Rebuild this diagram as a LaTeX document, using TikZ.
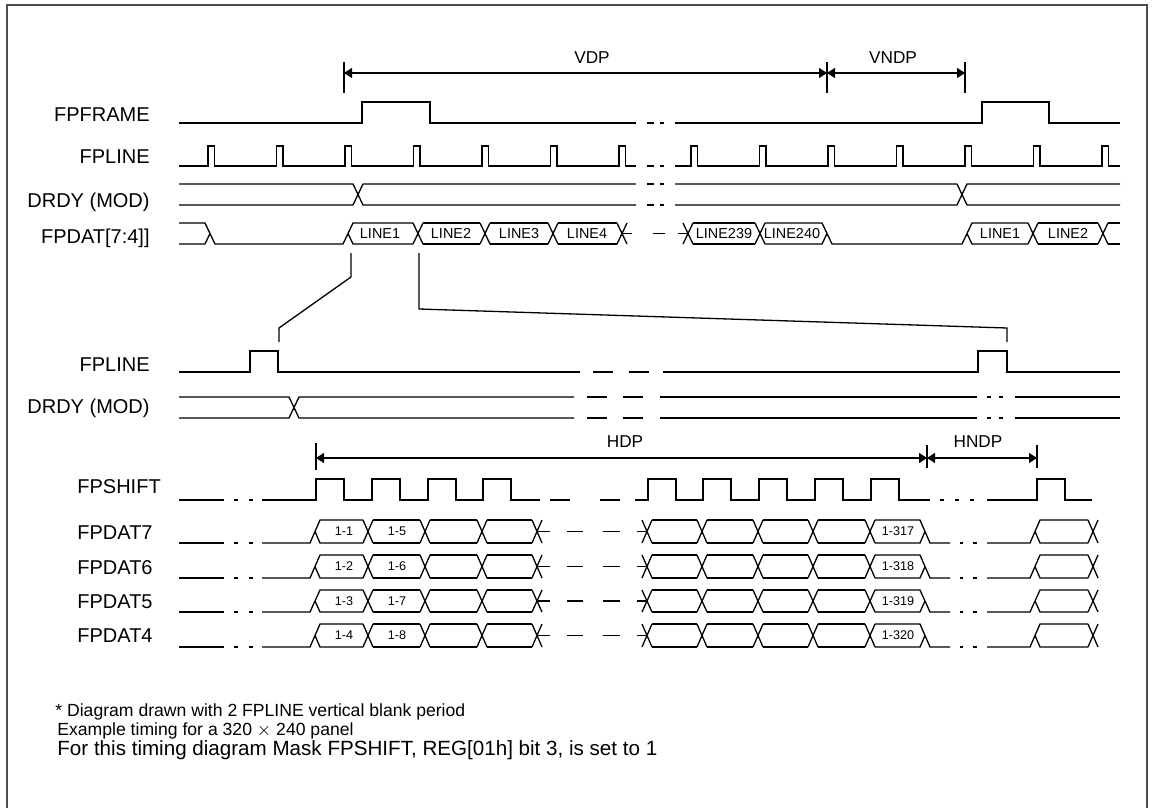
\documentclass[tikz,border=0pt]{standalone}
\usepackage{fontspec}
\setmainfont{Liberation Sans}
\usetikzlibrary{arrows.meta}
\newcommand\tdX[3]{\draw[sig] ({#1-5},#2) -- ({#1+5},#3) ({#1-5},#3) -- ({#1+5},#2);}
\newcommand\tdRun[4]{\draw[sig] (#1,#3) -- (#2,#3) (#1,#4) -- (#2,#4);}
\newcommand\tdDataRow[5]{%
  % #1 top, #2 bottom, #3 mid, #4 first label, #5 second label
  \draw[sig] (179,#2) -- (224,#2);
  \draw[sig] (234,#2) -- (238,#2) (249,#2) -- (253,#2);
  \draw[sig] (262,#2) -- (310,#2) -- (320,#1) -- (363,#1);
  \draw[sig] (315,#3) -- (320,#2) -- (363,#2);
  \tdX{368}{#1}{#2}\tdRun{373}{420}{#1}{#2}
  \tdX{425}{#1}{#2}\tdRun{430}{477}{#1}{#2}
  \tdX{482}{#1}{#2}\tdRun{487}{532}{#1}{#2}
  \tdX{537}{#1}{#2}
  \draw[sig] (537,#3) -- (550,#3);
  \draw[sig] (567,#3) -- (583,#3) (603,#3) -- (620,#3) (637,#3) -- (647,#3);
  \tdX{647}{#1}{#2}\tdRun{652}{697}{#1}{#2}
  \tdX{702}{#1}{#2}\tdRun{707}{753}{#1}{#2}
  \tdX{758}{#1}{#2}\tdRun{763}{808}{#1}{#2}
  \tdX{813}{#1}{#2}\tdRun{818}{865}{#1}{#2}
  \tdX{870}{#1}{#2}
  \draw[sig] (875,#1) -- (920,#1) -- (930,#2) -- (950,#2);
  \draw[sig] (875,#2) -- (920,#2) -- (925,#3);
  \draw[sig] (960,#2) -- (963,#2) (973,#2) -- (977,#2);
  \draw[sig] (987,#2) -- (1030,#2) -- (1040,#1) -- (1088,#1);
  \draw[sig] (1035,#3) -- (1040,#2) -- (1088,#2);
  \tdX{1093}{#1}{#2}
  \node[dlbl] at (344,#3) {#4};
  \node[dlbl] at (397,#3) {#5};
}
\begin{document}
\begin{tikzpicture}[x=0.5pt,y=-0.5pt,
  sig/.style={line width=0.65pt,line cap=butt,line join=miter},
  frame/.style={line width=1pt,draw=black!70},
  lbl/.style={font=\fontsize{10}{12}\selectfont,anchor=base east,inner sep=0pt},
  lbll/.style={font=\fontsize{10}{12}\selectfont,anchor=base west,inner sep=0pt},
  buslbl/.style={font=\fontsize{7.2}{8}\selectfont,inner sep=0pt},
  dlbl/.style={font=\fontsize{6.3}{7}\selectfont,inner sep=0pt},
  dimlbl/.style={font=\fontsize{8.6}{10}\selectfont,inner sep=0pt},
  note/.style={font=\fontsize{8.8}{10}\selectfont,anchor=base west,inner sep=0pt},
  dim/.style={line width=0.6pt,{Triangle[length=4pt,width=5pt]}-{Triangle[length=4pt,width=5pt]}},
  tick/.style={line width=0.6pt}]
\useasboundingbox (0,0) rectangle (1152,808);
\fill[white] (0,0) rectangle (1152,808);
\draw[frame] (7,808) -- (7,5) -- (1147,5) -- (1147,808);

% ---------- labels ----------
\node[lbl] (lFPFRAME) at (150,122) {FPFRAME};
\node[lbl] (lFPLINE) at (150,163) {FPLINE};
\node[lbl] (lDRDY) at (150,207) {DRDY (MOD)};
\node[lbl] (lFPDAT) at (150,243) {FPDAT[7:4]]};
\node[lbl] (lFPLINEb) at (150,371) {FPLINE};
\node[lbl] (lDRDYb) at (150,413) {DRDY (MOD)};
\node[lbll] (lFPSHIFT) at (77,493) {FPSHIFT};
\node[lbll] (lD7) at (77,539) {FPDAT7};
\node[lbll] (lD6) at (77,574) {FPDAT6};
\node[lbll] (lD5) at (77,608) {FPDAT5};
\node[lbll] (lD4) at (77,642) {FPDAT4};

% ---------- VDP / VNDP ----------
\coordinate (vL) at (344,73); \coordinate (vM) at (827,73); \coordinate (vR) at (965,73);
\draw[tick] (344,62) -- (344,93) (827,62) -- (827,93) (965,62) -- (965,93);
\draw[dim] (vL) -- (vM);
\draw[dim] (vM) -- (vR);
\node[dimlbl] (tVDP) at (592,58) {VDP};
\node[dimlbl] (tVNDP) at (893,58) {VNDP};

% ---------- FPFRAME ----------
\draw[sig] (179,123) -- (362,123) -- (362,102) -- (430,102) -- (430,123) -- (636,123);
\draw[sig] (647,123) -- (654,123) (660,123) -- (664,123);
\draw[sig] (675,123) -- (982,123) -- (982,102) -- (1049,102) -- (1049,123) -- (1120,123);

% ---------- FPLINE ----------
\draw[sig] (179,166) \foreach \r in {208,276.5,345,413.5,482,550.5,619}
  { -- (\r,166) -- (\r,146) -- ({\r+6.5},146) -- ({\r+6.5},166) } -- (636,166);
\draw[sig] (647,166) -- (654,166) (660,166) -- (664,166);
\draw[sig] (675,166) \foreach \r in {691,759.5,828,896.5,965,1033.5,1102}
  { -- (\r,166) -- (\r,146) -- ({\r+6.5},146) -- ({\r+6.5},166) } -- (1120,166);

% ---------- DRDY ----------
\draw[sig] (179,184) -- (353,184) -- (363,205) -- (636,205);
\draw[sig] (179,205) -- (353,205) -- (363,184) -- (636,184);
\draw[sig] (647,184) -- (654,184) (660,184) -- (664,184);
\draw[sig] (647,205) -- (654,205) (660,205) -- (664,205);
\draw[sig] (675,184) -- (957,184) -- (967,205) -- (1120,205);
\draw[sig] (675,205) -- (957,205) -- (967,184) -- (1120,184);

% ---------- FPDAT[7:4] ----------
\draw[sig] (179,223) -- (205,223) -- (215,244) -- (343,244) -- (353,223) -- (413,223);
\draw[sig] (179,244) -- (205,244) -- (210,233.5);
\draw[sig] (348,233.5) -- (353,244) -- (413,244);
\tdX{418}{223}{244}\tdRun{423}{480}{223}{244}
\tdX{485}{223}{244}\tdRun{490}{548}{223}{244}
\tdX{553}{223}{244}\tdRun{558}{617}{223}{244}
\tdX{622}{223}{244}
\draw[sig] (622,233.5) -- (632,233.5) (653,233.5) -- (665,233.5) (678,233.5) -- (688,233.5);
\tdX{688}{223}{244}\tdRun{693}{755}{223}{244}
\tdX{760}{223}{244}
\draw[sig] (765,223) -- (822,223) -- (832,244) -- (962,244) -- (972,223) -- (1028,223);
\draw[sig] (765,244) -- (822,244) -- (827,233.5);
\draw[sig] (967,233.5) -- (972,244) -- (1028,244);
\tdX{1033}{223}{244}\tdRun{1038}{1098}{223}{244}
\tdX{1103}{223}{244}\tdRun{1108}{1120}{223}{244}
\node[buslbl] (bL1) at (380,233.5) {LINE1};
\node[buslbl] (bL2) at (451,233.5) {LINE2};
\node[buslbl] (bL3) at (519,233.5) {LINE3};
\node[buslbl] (bL4) at (587,233.5) {LINE4};
\node[buslbl] (bL239) at (724,233.5) {LINE239};
\node[buslbl] (bL240) at (792,233.5) {LINE240};
\node[buslbl] (bL1b) at (1000,233.5) {LINE1};
\node[buslbl] (bL2b) at (1068,233.5) {LINE2};

% ---------- zoom lines ----------
\coordinate (zA0) at (351,253); \coordinate (zA1) at (351,277);
\coordinate (zA2) at (279,328); \coordinate (zA3) at (279,342);
\coordinate (zB0) at (419,253); \coordinate (zB1) at (419,309);
\coordinate (zB2) at (1007,328); \coordinate (zB3) at (1007,342);
\draw[sig] (zA0) -- (zA1) -- (zA2) -- (zA3);
\draw[sig] (zB0) -- (zB1) -- (zB2) -- (zB3);

% ---------- FPLINE (zoomed) ----------
\draw[sig] (179,372) -- (250,372) -- (250,351) -- (278,351) -- (278,372) -- (580,372);
\draw[sig] (593,372) -- (613,372) (629,372) -- (649,372);
\draw[sig] (663,372) -- (978,372) -- (978,351) -- (1007,351) -- (1007,372) -- (1120,372);

% ---------- DRDY (zoomed) ----------
\draw[sig] (179,397) -- (289,397) -- (299,418) -- (574,418);
\draw[sig] (179,418) -- (289,418) -- (299,397) -- (574,397);
\foreach \yy in {397,418}{
  \draw[sig] (587,\yy) -- (607,\yy) (623,\yy) -- (643,\yy);
  \draw[sig] (660,\yy) -- (977,\yy);
  \draw[sig] (987,\yy) -- (991,\yy) (999,\yy) -- (1003,\yy);
  \draw[sig] (1015,\yy) -- (1120,\yy);
}

% ---------- HDP / HNDP ----------
\coordinate (hL) at (316,458); \coordinate (hM) at (927,458); \coordinate (hR) at (1037,458);
\draw[tick] (316,443) -- (316,470) (927,445) -- (927,468) (1037,445) -- (1037,468);
\draw[dim] (hL) -- (hM);
\draw[dim] (hM) -- (hR);
\node[dimlbl] (tHDP) at (625,442) {HDP};
\node[dimlbl] (tHNDP) at (978,442) {HNDP};

% ---------- FPSHIFT ----------
\draw[sig] (179,500) -- (224,500);
\draw[sig] (234,500) -- (238,500) (249,500) -- (253,500);
\draw[sig] (262,500) \foreach \r in {316,372,428,483}
  { -- (\r,500) -- (\r,479) -- ({\r+28},479) -- ({\r+28},500) } -- (540,500);
\draw[sig] (550,500) -- (570,500) (600,500) -- (620,500);
\draw[sig] (635,500) \foreach \r in {648,703,759,815,871}
  { -- (\r,500) -- (\r,479) -- ({\r+28},479) -- ({\r+28},500) } -- (930,500);
\draw[sig] (940,500) -- (944,500) (955,500) -- (959,500) (970,500) -- (974,500);
\draw[sig] (987,500) -- (1037,500) -- (1037,479) -- (1065,479) -- (1065,500) -- (1092,500);

% ---------- FPDAT7..4 ----------
\tdDataRow{520}{543}{531.5}{1-1}{1-5}
\tdDataRow{555}{578}{566.5}{1-2}{1-6}
\tdDataRow{590}{612}{601}{1-3}{1-7}
\tdDataRow{624}{647}{635.5}{1-4}{1-8}
\node[dlbl] (e317) at (898,531.5) {1-317};
\node[dlbl] (e318) at (898,566.5) {1-318};
\node[dlbl] (e319) at (898,601) {1-319};
\node[dlbl] (e320) at (898,635.5) {1-320};

% ---------- notes ----------
\node[note] (n1) at (55,716) {* Diagram drawn with 2 FPLINE vertical blank period};
\node[note] (n2) at (57,735) {Example timing for a 320 $\times$ 240 panel};
\node[note,font=\fontsize{10.3}{12}\selectfont] (n3) at (57,755) {For this timing diagram Mask FPSHIFT, REG[01h] bit 3, is set to 1};
\end{tikzpicture}
\end{document}
